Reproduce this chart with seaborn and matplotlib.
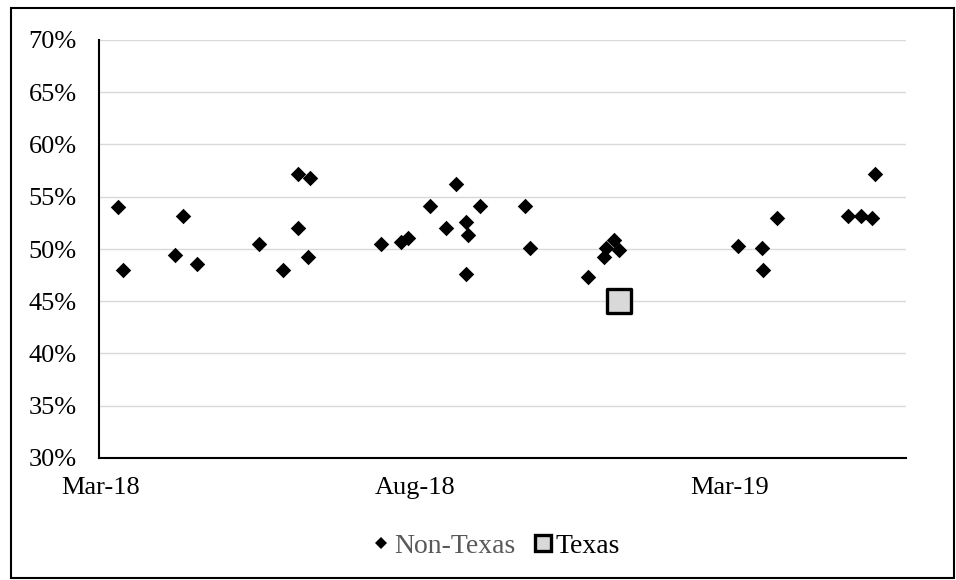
import matplotlib
matplotlib.use("Agg")
import matplotlib.pyplot as plt
from matplotlib.lines import Line2D
import seaborn as sns
import pandas as pd

# ---- data ----
non_texas_dates = [
    "2018-03-11", "2018-03-14", "2018-04-18", "2018-04-13", "2018-04-26",
    "2018-06-01", "2018-06-15", "2018-06-24", "2018-07-01", "2018-06-24",
    "2018-06-30", "2018-08-11", "2018-08-23", "2018-08-27", "2018-09-09",
    "2018-09-18", "2018-09-24", "2018-09-30", "2018-10-01", "2018-09-30",
    "2018-10-08", "2018-11-03", "2018-11-06", "2018-12-10", "2018-12-19",
    "2018-12-20", "2018-12-25", "2018-12-28", "2019-03-07", "2019-03-21",
    "2019-03-22", "2019-03-30", "2019-05-10", "2019-05-18", "2019-05-24",
    "2019-05-26",
]
non_texas_values = [
    54.0, 48.0, 53.2, 49.4, 48.6,
    50.5, 48.0, 57.2, 56.8, 52.0,
    49.2, 50.5, 50.7, 51.1, 54.1,
    52.0, 56.2, 52.6, 51.3, 47.6,
    54.1, 54.1, 50.1, 47.3, 49.2,
    50.1, 50.9, 49.9, 50.3, 50.1,
    48.0, 53.0, 53.2, 53.2, 53.0,
    57.2,
]
texas_dates = ["2018-12-28"]
texas_values = [45.0]

x_tick_dates = ["2018-03-01", "2018-08-31", "2019-03-02"]
x_tick_labels = ["Mar-18", "Aug-18", "Mar-19"]
y_ticks = [30, 35, 40, 45, 50, 55, 60, 65, 70]
y_tick_labels = ["30%", "35%", "40%", "45%", "50%", "55%", "60%", "65%", "70%"]

# ---- build frames ----
df_nt = pd.DataFrame({"date": pd.to_datetime(non_texas_dates), "value": non_texas_values})
df_tx = pd.DataFrame({"date": pd.to_datetime(texas_dates), "value": texas_values})

sns.set_theme(style="white")
plt.rcParams["font.family"] = ["Liberation Serif", "DejaVu Serif"]

W, H = 956, 580
fig = plt.figure(figsize=(W / 100, H / 100), dpi=100)
ax = fig.add_axes([99 / W, 1 - 458 / H, (906 - 99) / W, (458 - 40) / H])

sns.scatterplot(data=df_nt, x="date", y="value", ax=ax, marker="D", s=62,
                color="black", edgecolor="black", linewidth=0, zorder=3, legend=False)
sns.scatterplot(data=df_tx, x="date", y="value", ax=ax, marker="s", s=320,
                color="#d9d9d9", edgecolor="black", linewidth=2.4, zorder=4, legend=False)

ax.set_ylim(30, 70)
ax.set_yticks(y_ticks)
ax.set_yticklabels(y_tick_labels)
ax.set_xlim(pd.Timestamp("2018-03-01") - pd.Timedelta(days=1), pd.Timestamp("2019-06-13"))
ax.set_xticks(pd.to_datetime(x_tick_dates))
ax.set_xticklabels(x_tick_labels)
ax.set_xlabel("")
ax.set_ylabel("")

ax.grid(axis="y", color="#d9d9d9", linewidth=1.0)
ax.grid(axis="x", visible=False)
ax.set_axisbelow(True)
for side in ["top", "right"]:
    ax.spines[side].set_visible(False)
for side in ["left", "bottom"]:
    ax.spines[side].set_color("black")
    ax.spines[side].set_linewidth(1.5)
ax.tick_params(axis="both", length=0, labelsize=19, colors="black")
ax.tick_params(axis="y", pad=16)
ax.tick_params(axis="x", pad=14)

handles = [
    Line2D([], [], linestyle="none", marker="D", markersize=6.5, color="black", markeredgewidth=0),
    Line2D([], [], linestyle="none", marker="s", markersize=11, markerfacecolor="#d9d9d9",
           markeredgecolor="black", markeredgewidth=2.4),
]
leg = fig.legend(handles, ["Non-Texas", "Texas"], loc="center", bbox_to_anchor=(495 / W, 1 - 546 / H),
                 ncol=2, frameon=False, fontsize=20, handletextpad=0.05, columnspacing=0.6,
                 handlelength=0.8)
leg.get_texts()[0].set_color("#595959")
leg.get_texts()[1].set_color("black")

fig.add_artist(plt.Rectangle((11 / W, 2 / H), (954 - 11) / W, (578 - 8) / H,
                             transform=fig.transFigure, fill=False, edgecolor="black",
                             linewidth=1.5))

fig.savefig("out.png", dpi=100)
